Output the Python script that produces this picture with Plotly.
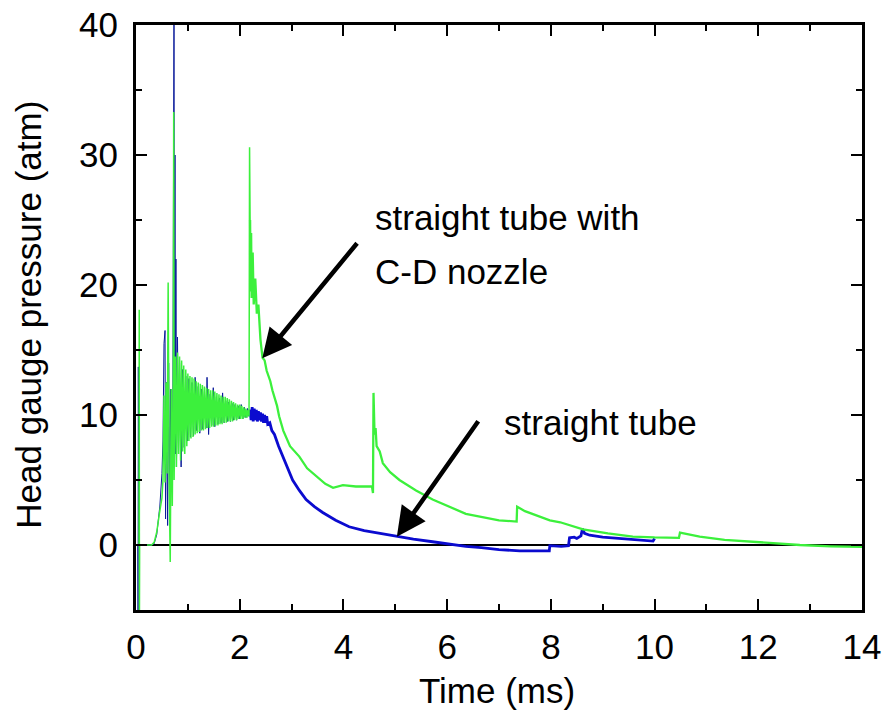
import plotly.graph_objects as go

# ---------------- data ----------------
# straight tube (blue) - early noisy part
blue_t_early = [0.0, 0.035, 0.040, 0.045, 0.050, 0.055, 0.30, 0.35, 0.40, 0.43, 0.46, 0.50, 0.52,
                0.54, 0.56, 0.57, 0.59, 0.61, 0.63, 0.65, 0.67, 0.69, 0.71, 0.733, 0.742, 0.752,
                0.76, 0.77, 0.78, 0.80, 0.82, 0.84, 0.87, 0.90, 0.93, 0.96, 0.99, 1.02, 1.05,
                1.08, 1.11, 1.14, 1.17, 1.20, 1.23, 1.26, 1.29, 1.32, 1.35, 1.37, 1.40, 1.43,
                1.46, 1.49, 1.52, 1.55, 1.58, 1.61, 1.64, 1.67, 1.70, 1.73, 1.76, 1.79, 1.82,
                1.85, 1.88, 1.91, 1.94, 1.97, 2.00, 2.03, 2.06, 2.09, 2.12, 2.15, 2.18]
blue_v_early = [0.0, 0.0, -6.0, 13.7, -6.0, 0.0, 0.0, 0.1, 0.8, 1.8, 3.0, 5.5, 8.0,
                15.5, 16.5, 2.0, 12.5, 1.5, 14.0, 3.0, 12.0, 5.0, 10.0, 42.0, 8.0, 30.0,
                7.0, 22.0, 6.0, 16.0, 7.0, 14.0, 6.0, 13.5, 7.5, 13.0, 8.0, 12.8, 8.3,
                12.5, 8.4, 12.9, 8.8, 12.2, 8.6, 12.0, 8.9, 11.8, 9.0, 12.9, 8.5, 11.6,
                9.2, 12.1, 9.1, 11.4, 9.3, 11.3, 9.4, 11.7, 9.4, 11.1, 9.5, 11.0, 9.5,
                10.9, 9.6, 10.8, 9.6, 10.7, 9.7, 10.8, 9.7, 10.6, 9.8, 10.5, 9.9]
# straight tube (blue) - late decaying part
blue_t_late = [2.18, 2.20, 2.22, 2.24, 2.26, 2.28, 2.30, 2.32, 2.34, 2.36, 2.38, 2.40, 2.42,
               2.44, 2.46, 2.48, 2.50, 2.52, 2.54, 2.58, 2.62, 2.67, 2.75, 2.83, 2.92, 3.02,
               3.15, 3.28, 3.44, 3.60, 3.85, 4.11, 4.40, 4.75, 5.00, 5.35, 5.72, 6.00, 6.36,
               6.66, 7.00, 7.40, 7.90, 7.97, 7.98, 8.20, 8.34, 8.36, 8.45, 8.50, 8.58, 8.61,
               8.65, 8.75, 9.00, 9.30, 9.60, 9.97, 10.00]
blue_v_late = [9.9, 10.4, 9.6, 10.6, 9.5, 10.5, 9.6, 10.4, 9.5, 10.3, 9.6, 10.2, 9.5,
               10.1, 9.4, 10.0, 9.4, 9.9, 9.3, 9.4, 8.8, 8.5, 7.6, 6.8, 5.9, 5.0,
               4.2, 3.5, 2.95, 2.5, 1.9, 1.4, 1.1, 0.85, 0.7, 0.45, 0.25, 0.1, -0.1,
               -0.2, -0.35, -0.45, -0.5, -0.45, -0.05, -0.1, -0.05, 0.55, 0.6, 0.5, 0.7, 1.25,
               0.9, 0.75, 0.6, 0.5, 0.42, 0.3, 0.5]

# straight tube with C-D nozzle (green) - early noisy part
green_t_early = [0.0, 0.058, 0.062, 0.066, 0.070, 0.10, 0.20, 0.30, 0.35, 0.40, 0.45, 0.50, 0.52,
                 0.54, 0.56, 0.58, 0.60, 0.62, 0.64, 0.66, 0.68, 0.70, 0.72, 0.727, 0.735,
                 0.76, 0.78, 0.80, 0.82, 0.84, 0.86, 0.88, 0.90, 0.92, 0.94, 0.96, 0.98,
                 1.00, 1.02, 1.04, 1.06, 1.08, 1.10, 1.12, 1.14, 1.16, 1.18, 1.20, 1.22,
                 1.24, 1.26, 1.28, 1.30, 1.32, 1.34, 1.36, 1.38, 1.40, 1.42, 1.44, 1.46,
                 1.48, 1.50, 1.52, 1.54, 1.56, 1.58, 1.60, 1.62, 1.64, 1.66, 1.68, 1.70,
                 1.72, 1.74, 1.76, 1.78, 1.80, 1.82, 1.84, 1.86, 1.88, 1.90, 1.92, 1.94,
                 1.96, 1.98, 2.00, 2.02, 2.04, 2.06, 2.08, 2.10, 2.12, 2.14, 2.16, 2.18,
                 2.19, 2.20]
green_v_early = [0.0, 0.0, 18.1, -6.0, 0.0, 0.0, 0.0, 0.0, 0.2, 1.0, 2.4, 3.6, 5.0,
                 11.5, 4.8, 12.5, 5.5, 20.2, 4.5, -1.3, 12.0, 3.0, 14.0, 33.3, 5.0,
                 14.5, 6.0, 14.8, 7.0, 14.5, 6.5, 14.2, 7.2, 13.8, 7.0, 13.5, 7.6,
                 13.2, 8.0, 13.0, 8.2, 12.9, 8.3, 12.8, 8.5, 12.6, 8.6, 12.5, 8.7,
                 12.4, 8.8, 12.3, 8.8, 12.2, 8.9, 12.1, 9.0, 12.0, 9.0, 11.9, 9.1,
                 11.9, 9.1, 11.8, 9.2, 11.7, 9.2, 11.6, 9.3, 11.5, 9.3, 11.4, 9.4,
                 11.4, 9.4, 11.3, 9.5, 11.2, 9.5, 11.1, 9.5, 11.0, 9.6, 10.9, 9.6,
                 10.8, 9.7, 10.8, 9.7, 10.7, 9.7, 10.6, 9.8, 10.5, 9.8, 10.4, 9.9,
                 30.6, 25.0]
# green - late decaying part
green_t_late = [2.20, 2.21, 2.22, 2.23, 2.25, 2.27, 2.30, 2.33, 2.36, 2.40, 2.44, 2.48, 2.52,
                2.56, 2.59, 2.63, 2.68, 2.72, 2.76, 2.84, 2.97, 3.15, 3.30, 3.47, 3.65,
                3.80, 3.99, 4.24, 4.55, 4.57, 4.58, 4.60, 4.62, 4.64, 4.70, 4.76, 4.90,
                5.08, 5.40, 5.72, 6.04, 6.36, 6.68, 7.00, 7.34, 7.35, 7.50, 7.98, 8.18,
                8.62, 9.10, 9.58, 10.00, 10.47, 10.49, 10.60, 10.87, 11.35, 11.83, 12.30,
                12.80, 13.40, 14.00]
green_v_late = [25.0, 19.5, 24.0, 19.0, 22.5, 18.5, 20.5, 17.8, 18.5, 15.8, 14.4, 14.2, 13.4,
                13.0, 12.6, 11.9, 11.3, 10.7, 9.9, 8.8, 7.6, 6.8, 5.9, 5.3, 4.7,
                4.4, 4.6, 4.5, 4.5, 4.0, 11.7, 8.5, 9.0, 7.6, 7.2, 6.3, 5.6,
                5.0, 4.2, 3.5, 2.95, 2.4, 2.15, 1.9, 1.8, 2.95, 2.6, 1.9, 1.75,
                1.2, 0.9, 0.65, 0.58, 0.55, 0.95, 0.85, 0.65, 0.4, 0.25, 0.1,
                0.0, -0.1, -0.15]

x_ticks = [0, 2, 4, 6, 8, 10, 12, 14]
y_ticks = [0, 10, 20, 30, 40]

x_title = "Time (ms)"
y_title = "Head gauge pressure (atm)"
label_nozzle = ["straight tube with", "C-D nozzle"]
label_straight = "straight tube"

BLUE = "#0b0bcf"
GREEN = "#3cf03c"
FONT = "Liberation Sans, Arial, Helvetica, sans-serif"

fig = go.Figure()
fig.add_trace(go.Scatter(x=blue_t_early, y=blue_v_early, mode="lines",
                         line=dict(color="#0a1a9a", width=1), showlegend=False))
fig.add_trace(go.Scatter(x=blue_t_late, y=blue_v_late, mode="lines",
                         line=dict(color=BLUE, width=2.8), showlegend=False))
fig.add_trace(go.Scatter(x=green_t_early, y=green_v_early, mode="lines",
                         line=dict(color=GREEN, width=1.5), showlegend=False))
fig.add_trace(go.Scatter(x=green_t_late, y=green_v_late, mode="lines",
                         line=dict(color=GREEN, width=2.3), showlegend=False))

axis_common = dict(showline=True, linecolor="black", linewidth=3, mirror="ticks",
                   ticks="inside", tickcolor="black", tickwidth=2, ticklen=11,
                   showgrid=False, automargin=False, ticklabeloverflow="allow",
                   tickfont=dict(family=FONT, size=35, color="black"))

fig.update_xaxes(range=[0, 14], tickvals=x_ticks, ticktext=[str(v) for v in x_ticks],
                 minor=dict(ticks="inside", ticklen=6, dtick=1, tickwidth=2, tickcolor="black"),
                 zeroline=False, ticklabelstandoff=4, **axis_common)
fig.update_yaxes(range=[-5, 40], tickvals=y_ticks, ticktext=[str(v) for v in y_ticks],
                 minor=dict(ticks="inside", ticklen=6, dtick=5, tickwidth=2, tickcolor="black"),
                 zeroline=True, zerolinecolor="black", zerolinewidth=2, ticklabelstandoff=8,
                 **axis_common)

# axis titles
fig.add_annotation(x=0.497, y=-0.137, xref="paper", yref="paper", text=x_title,
                   showarrow=False, xanchor="center", yanchor="middle",
                   font=dict(family=FONT, size=35, color="black"))
fig.add_annotation(x=-0.148, y=0.504, xref="paper", yref="paper", text=y_title,
                   showarrow=False, xanchor="center", yanchor="middle", textangle=-90,
                   font=dict(family=FONT, size=35, color="black"))

# annotation arrows + texts
fig.add_annotation(x=2.435, y=14.36, ax=4.287, ay=23.33, xref="x", yref="y", axref="x", ayref="y",
                   text="", showarrow=True, arrowhead=2, arrowsize=1.3, arrowwidth=4.5,
                   arrowcolor="black")
fig.add_annotation(x=5.03, y=0.64, ax=6.62, ay=9.63, xref="x", yref="y", axref="x", ayref="y",
                   text="", showarrow=True, arrowhead=2, arrowsize=1.3, arrowwidth=4.5,
                   arrowcolor="black")
fig.add_annotation(x=(373 - 136) / 51.86, y=(545 - 218) / 12.98, xref="x", yref="y",
                   text=label_nozzle[0], showarrow=False, xanchor="left", yanchor="middle",
                   font=dict(family=FONT, size=35, color="black"))
fig.add_annotation(x=(373 - 136) / 51.86, y=(545 - 272) / 12.98, xref="x", yref="y",
                   text=label_nozzle[1], showarrow=False, xanchor="left", yanchor="middle",
                   font=dict(family=FONT, size=35, color="black"))
fig.add_annotation(x=(502 - 136) / 51.86, y=(545 - 423) / 12.98, xref="x", yref="y",
                   text=label_straight, showarrow=False, xanchor="left", yanchor="middle",
                   font=dict(family=FONT, size=35, color="black"))

fig.update_layout(width=883, height=719, plot_bgcolor="white", paper_bgcolor="white",
                  margin=dict(l=136, r=21, t=25, b=109), showlegend=False)

# remove the browser's default body margin so the figure fills the window exactly
fig.write_html("out.html", config={"displayModeBar": False},
               post_script="document.body.style.margin='0';document.body.style.overflow='hidden';")
